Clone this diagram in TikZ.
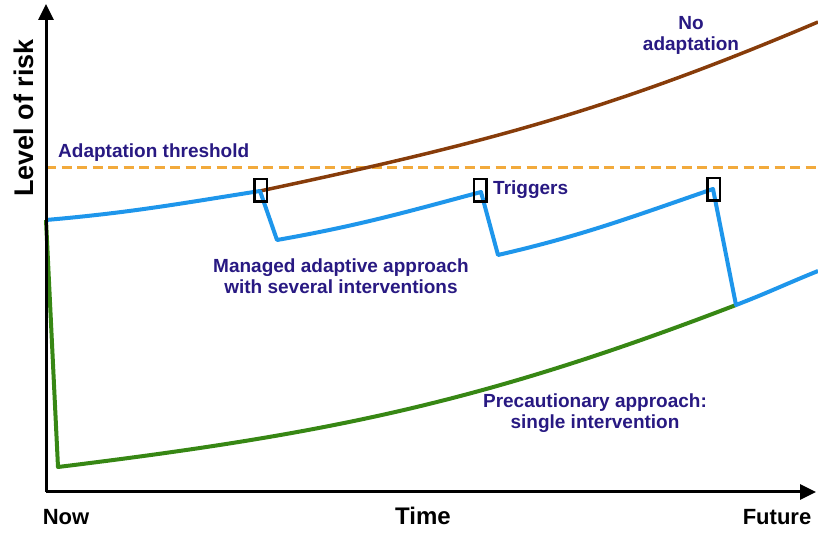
\documentclass[tikz,border=0pt]{standalone}
\usepackage{fontspec}
\setmainfont{Liberation Sans}
\usepackage{xcolor}
\usetikzlibrary{arrows.meta,positioning}

\definecolor{riskblue}{RGB}{30,150,235}
\definecolor{riskgreen}{RGB}{55,135,20}
\definecolor{riskbrown}{RGB}{135,60,10}
\definecolor{risknavy}{RGB}{40,25,130}
\definecolor{riskorange}{RGB}{242,170,60}

\begin{document}
\begin{tikzpicture}[x=1pt,y=1pt,>={Triangle[length=16pt,width=15pt]},
		lbl/.style={text=risknavy,font=\bfseries\fontsize{19}{21}\selectfont,inner sep=0pt,align=center},
		axlbl/.style={font=\bfseries\fontsize{22}{24}\selectfont,inner sep=0pt},
		trigbox/.style={draw=black,line width=2.5pt,minimum width=12.5pt,minimum height=22.5pt,inner sep=0pt}]
			\useasboundingbox (0,0) rectangle (818,532);
			
			% axes and threshold
			\coordinate (o) at (46,40);
			\coordinate (ytop) at (46,528);
			\coordinate (xend) at (816,40);
			\coordinate (thrA) at (46,364);
			\coordinate (thrB) at (818,364);
			
			% points of the three paths
			\coordinate (now) at (46,312);
			\coordinate (low) at (58,65);
			\coordinate (t1) at (260,341);
			\coordinate (d1) at (277,292);
			\coordinate (t2) at (481,340);
			\coordinate (d2) at (498,277);
			\coordinate (t3) at (713,343);
			\coordinate (d3) at (736,227);
			\coordinate (blueend) at (818,261);
			\coordinate (brownend) at (818,510);
			
			\draw[riskorange,line width=3pt,dash pattern=on 10pt off 5.5pt] (thrA) -- (thrB);
			
			\draw[riskgreen,line width=4pt,line join=round] (now) -- (low) to[out=7,in=201] (d3);
			\draw[riskbrown,line width=3.5pt] (t1) to[out=12,in=203] (brownend);
			\draw[riskblue,line width=4pt,line join=round] (now) to[out=5,in=189] (t1) -- (d1)
				to[out=10,in=195] (t2) -- (d2) to[out=13,in=199] (t3) -- (d3) to[out=21,in=202] (blueend);
			
			\node[trigbox] (trigA) at (260.5,341.5) {};
			\node[trigbox] (trigB) at (480,341.5) {};
			\node[trigbox] (trigC) at (713.5,342.5) {};
			
			\draw[line width=3pt,->] (o) -- (ytop);
			\draw[line width=3pt,->] (o) -- (xend);
			
			% labels
			\node[lbl,anchor=base west] (thrlbl) at (58,374) {Adaptation threshold};
			\node[lbl,anchor=base west] (triglbl) at (493,337) {Triggers};
			\node[lbl] (nolbl) at (691,497) {No\\adaptation};
			\node[lbl] (manlbl) at (341,256) {Managed adaptive approach\\with several interventions};
			\node[lbl] (prelbl) at (595,119) {Precautionary approach:\\single intervention};
			
			\node[axlbl,anchor=base] (nowlbl) at (66,8) {Now};
			\node[axlbl,anchor=base,font=\bfseries\fontsize{24}{26}\selectfont] (timelbl) at (423,7) {Time};
			\node[axlbl,anchor=base] (futlbl) at (777,8) {Future};
			\node[axlbl,anchor=base,rotate=90,font=\bfseries\fontsize{27}{29}\selectfont] (risklbl) at (33,414) {Level of risk};
		\end{tikzpicture}
\end{document}
